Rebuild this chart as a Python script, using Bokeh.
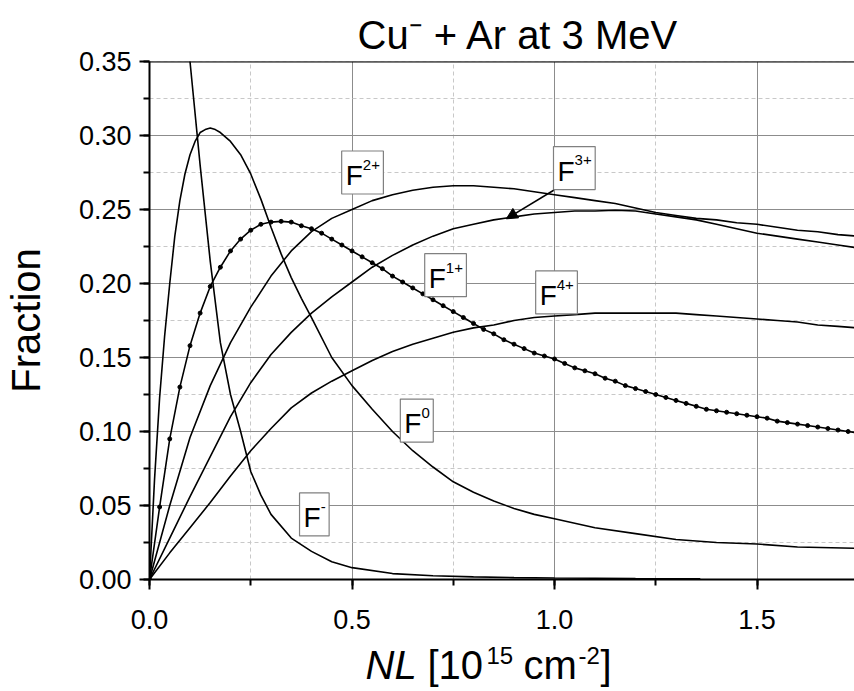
from bokeh.plotting import figure
from bokeh.layouts import column
from bokeh.models import (Range1d, Arrow, NormalHead, SingleIntervalTicker,
                          NumeralTickFormatter, Span)
from bokeh.core.properties import value
from bokeh.embed import file_html
from bokeh.resources import INLINE

FONT = "Liberation Sans"

# ---- data (fraction vs NL, 10^15 cm^-2) ----
x_fminus = [0, 0.025, 0.05, 0.075, 0.1, 0.125, 0.15, 0.175, 0.2, 0.225, 0.25, 0.275, 0.3,
            0.35, 0.4, 0.45, 0.5, 0.6, 0.7, 0.8, 0.9, 1.0, 1.1, 1.2, 1.36]
y_fminus = [1.0, 0.78, 0.60, 0.46, 0.35, 0.28, 0.215, 0.160, 0.125, 0.100, 0.073, 0.057, 0.044,
            0.028, 0.019, 0.012, 0.008, 0.004, 0.0025, 0.0018, 0.0013, 0.001, 0.0008, 0.0006, 0.0005]

x_f0 = [0, 0.0125, 0.025, 0.0375, 0.05, 0.0625, 0.075, 0.0875, 0.1, 0.1125, 0.125, 0.1375, 0.15,
        0.1625, 0.175, 0.2, 0.225, 0.25, 0.275, 0.3, 0.325, 0.35, 0.375, 0.4, 0.45, 0.5, 0.55,
        0.6, 0.65, 0.7, 0.75, 0.8, 0.85, 0.9, 0.95, 1.0, 1.1, 1.2, 1.3, 1.4, 1.5, 1.6, 1.75]
y_f0 = [0, 0.068, 0.123, 0.165, 0.200, 0.232, 0.256, 0.274, 0.287, 0.296, 0.302, 0.304, 0.305,
        0.304, 0.302, 0.296, 0.287, 0.274, 0.257, 0.238, 0.220, 0.204, 0.190, 0.177, 0.150, 0.131, 0.115,
        0.100, 0.087, 0.076, 0.066, 0.059, 0.053, 0.048, 0.044, 0.041, 0.035, 0.031, 0.027, 0.025, 0.024, 0.022, 0.021]

x_f1 = [0, 0.025, 0.05, 0.075, 0.1, 0.125, 0.15, 0.175, 0.2, 0.225, 0.25, 0.275, 0.3, 0.325,
        0.35, 0.375, 0.4, 0.425, 0.45, 0.475, 0.5, 0.525, 0.55, 0.575, 0.6, 0.625, 0.65, 0.675,
        0.7, 0.725, 0.75, 0.775, 0.8, 0.825, 0.85, 0.875, 0.9, 0.925, 0.95, 0.975, 1.0, 1.025,
        1.05, 1.075, 1.1, 1.125, 1.15, 1.175, 1.2, 1.225, 1.25, 1.275, 1.3, 1.325, 1.35, 1.375,
        1.4, 1.425, 1.45, 1.475, 1.5, 1.525, 1.55, 1.575, 1.6, 1.625, 1.65, 1.675, 1.7, 1.725, 1.75]
y_f1 = [0, 0.049, 0.095, 0.130, 0.158, 0.180, 0.198, 0.211, 0.222, 0.230, 0.236, 0.240, 0.2415, 0.242,
        0.2415, 0.239, 0.237, 0.234, 0.230, 0.226, 0.222, 0.218, 0.214, 0.210, 0.205, 0.201, 0.197, 0.193,
        0.189, 0.185, 0.181, 0.177, 0.173, 0.169, 0.166, 0.162, 0.159, 0.156, 0.153, 0.151, 0.149, 0.146,
        0.143, 0.141, 0.139, 0.136, 0.134, 0.131, 0.129, 0.127, 0.125, 0.123, 0.121, 0.119, 0.117, 0.115,
        0.114, 0.113, 0.112, 0.111, 0.110, 0.109, 0.107, 0.106, 0.105, 0.104, 0.103, 0.102, 0.101, 0.100, 0.099]

x_f2 = [0, 0.05, 0.1, 0.15, 0.2, 0.25, 0.3, 0.35, 0.4, 0.45, 0.5, 0.55, 0.6, 0.65, 0.7, 0.75, 0.8,
        0.85, 0.9, 0.95, 1.0, 1.05, 1.1, 1.15, 1.2, 1.25, 1.3, 1.35, 1.4, 1.45, 1.5, 1.55, 1.6, 1.65, 1.7, 1.75]
y_f2 = [0, 0.050, 0.096, 0.131, 0.160, 0.184, 0.205, 0.222, 0.235, 0.244, 0.250, 0.256, 0.260, 0.263,
        0.265, 0.266, 0.266, 0.265, 0.264, 0.262, 0.260, 0.258, 0.256, 0.254, 0.251, 0.248, 0.246, 0.244,
        0.243, 0.241, 0.240, 0.238, 0.236, 0.235, 0.233, 0.232]

x_f3 = [0, 0.05, 0.1, 0.15, 0.2, 0.25, 0.3, 0.35, 0.4, 0.45, 0.5, 0.55, 0.6, 0.65, 0.7, 0.75, 0.8,
        0.85, 0.9, 0.95, 1.0, 1.05, 1.1, 1.15, 1.2, 1.25, 1.3, 1.35, 1.4, 1.45, 1.5, 1.55, 1.6, 1.65, 1.7, 1.75]
y_f3 = [0, 0.028, 0.056, 0.083, 0.110, 0.133, 0.152, 0.167, 0.180, 0.191, 0.201, 0.211, 0.219, 0.226,
        0.232, 0.237, 0.240, 0.243, 0.245, 0.247, 0.248, 0.249, 0.249, 0.2495, 0.249, 0.247, 0.245, 0.243,
        0.240, 0.237, 0.234, 0.232, 0.230, 0.228, 0.226, 0.224]

x_f4 = [0, 0.05, 0.1, 0.15, 0.2, 0.25, 0.3, 0.35, 0.4, 0.45, 0.5, 0.55, 0.6, 0.65, 0.7, 0.75, 0.8,
        0.85, 0.9, 0.95, 1.0, 1.05, 1.1, 1.15, 1.2, 1.25, 1.3, 1.35, 1.4, 1.45, 1.5, 1.55, 1.6, 1.65, 1.7, 1.75]
y_f4 = [0, 0.018, 0.035, 0.052, 0.070, 0.087, 0.102, 0.116, 0.126, 0.134, 0.141, 0.148, 0.154, 0.159,
        0.163, 0.167, 0.170, 0.172, 0.175, 0.177, 0.178, 0.179, 0.180, 0.180, 0.180, 0.180, 0.180, 0.179,
        0.178, 0.177, 0.176, 0.175, 0.174, 0.172, 0.171, 0.170]

# curve labels: superscript text and box-centre position (data units)
label_sup = ["-", "0", "1+", "2+", "3+", "4+"]
label_x = [0.407, 0.660, 0.731, 0.526, 1.049, 1.005]
label_y = [0.044, 0.1074, 0.2056, 0.275, 0.278, 0.194]

title_text = "Cu\u207b + Ar at 3 MeV"

x_ticks_major = 0.5
y_ticks_major = 0.05

W = 854
LEFT = 149
MAIN_H = 640
BOT_H = 691 - MAIN_H
MID = 0.31   # distance (in em) from alphabetic baseline up to the 'middle' baseline


def put(f, txt, x, base, size, style="normal"):
    f.text(x=[x], y=[base - MID * size], text=[txt], text_font=value(FONT),
           text_font_size=f"{size}px", text_font_style=style, text_align="left",
           text_baseline="middle", text_color="black")


# ---- main plot ----
p = figure(width=W, height=MAIN_H, output_backend="svg", toolbar_location=None,
           x_range=Range1d(0, 705 / 405), y_range=Range1d(0, 0.3500001),
           min_border_left=LEFT, min_border_right=0, min_border_top=61, min_border_bottom=61)
p.outline_line_color = None

p.title.text = title_text
p.title.text_font = FONT
p.title.text_font_size = "40px"
p.title.text_font_style = "normal"
p.title.text_color = "black"
p.title.align = "left"
p.title.offset = 357 - LEFT
p.title.standoff = 10

p.xaxis.ticker = SingleIntervalTicker(interval=x_ticks_major, num_minor_ticks=2)
p.yaxis.ticker = SingleIntervalTicker(interval=y_ticks_major, num_minor_ticks=2)
p.xaxis.formatter = NumeralTickFormatter(format="0.0")
p.yaxis.formatter = NumeralTickFormatter(format="0.00")

for ax in (p.xaxis, p.yaxis):
    ax.axis_line_width = 2
    ax.axis_line_color = "black"
    ax.major_tick_out = 10
    ax.major_tick_in = 0
    ax.minor_tick_out = 6
    ax.minor_tick_in = 0
    ax.major_tick_line_width = 2
    ax.minor_tick_line_width = 2
    ax.major_label_text_font = FONT
    ax.major_label_text_font_size = "27px"
    ax.major_label_text_color = "black"
p.xaxis.major_label_standoff = 20
p.yaxis.major_label_standoff = 8
p.xaxis.axis_label = None
p.yaxis.axis_label = "Fraction"
p.yaxis.axis_label_text_font = FONT
p.yaxis.axis_label_text_font_size = "40px"
p.yaxis.axis_label_text_font_style = "normal"
p.yaxis.axis_label_text_color = "black"
p.yaxis.axis_label_standoff = 28

for g in (p.xgrid, p.ygrid):
    g.grid_line_color = "#8c8c8c"
    g.grid_line_width = 1
    g.minor_grid_line_color = "#c8c8c8"
    g.minor_grid_line_dash = "4 3"
    g.minor_grid_line_width = 1

p.add_layout(Span(location=0.35, dimension="width", line_color="black", line_width=2))

# ---- curves ----
lw = 1.6
p.line(x_fminus, y_fminus, line_color="black", line_width=lw)
p.line(x_f0, y_f0, line_color="black", line_width=lw)
p.line(x_f1, y_f1, line_color="black", line_width=lw)
p.scatter(x_f1, y_f1, size=4, marker="circle", fill_color="black", line_color="black")
p.line(x_f2, y_f2, line_color="black", line_width=lw)
p.line(x_f3, y_f3, line_color="black", line_width=lw)
p.line(x_f4, y_f4, line_color="black", line_width=lw)

# ---- boxed curve labels ----
F_SIZE, S_SIZE = 28, 15
F_ADV = 0.611 * F_SIZE
sup_w = {"-": 0.333, "0": 0.556, "1+": 1.14, "2+": 1.14, "3+": 1.14, "4+": 1.14}
for s, cx, cy in zip(label_sup, label_x, label_y):
    w = 4 + F_ADV + sup_w[s] * S_SIZE + 3.5
    h = 43
    p.rect(x=[cx], y=[cy], width=w, height=h, width_units="screen", height_units="screen",
           fill_color="white", line_color="#808080", line_width=1.2)
    left = -w / 2 + 4
    p.text(x=[cx], y=[cy], text=["F"], x_offset=left, y_offset=12 - MID * F_SIZE,
           text_font=value(FONT), text_font_size=f"{F_SIZE}px", text_align="left",
           text_baseline="middle", text_color="black")
    p.text(x=[cx], y=[cy], text=[s], x_offset=left + F_ADV, y_offset=-3 - MID * S_SIZE,
           text_font=value(FONT), text_font_size=f"{S_SIZE}px", text_align="left",
           text_baseline="middle", text_color="black")

# arrow from F3+ box to its curve
p.add_layout(Arrow(end=NormalHead(size=11, fill_color="black", line_color="black"),
                   x_start=0.998, y_start=0.263, x_end=0.881, y_end=0.2437,
                   line_color="black", line_width=1.5))

# ---- x-axis title strip: NL [10^15 cm^-2] ----
bot = figure(width=W, height=BOT_H, output_backend="svg", toolbar_location=None, title=None,
             x_range=Range1d(LEFT, W), y_range=Range1d(BOT_H, 0),
             x_axis_location=None, y_axis_location=None,
             min_border=0, min_border_left=LEFT, min_border_right=0,
             min_border_top=0, min_border_bottom=0)
bot.outline_line_color = None
bot.grid.visible = False
y0 = MAIN_H
put(bot, "NL", 365, 677 - y0, 40, "italic")
put(bot, "[10", 427, 677 - y0, 40)
put(bot, "15", 486, 662 - y0, 24)
put(bot, "cm", 523, 677 - y0, 40)
put(bot, "-2", 578, 662 - y0, 24)
put(bot, "]", 600, 677 - y0, 40)

layout = column(p, bot, spacing=0)
open("out.html", "w").write(file_html(layout, INLINE))
